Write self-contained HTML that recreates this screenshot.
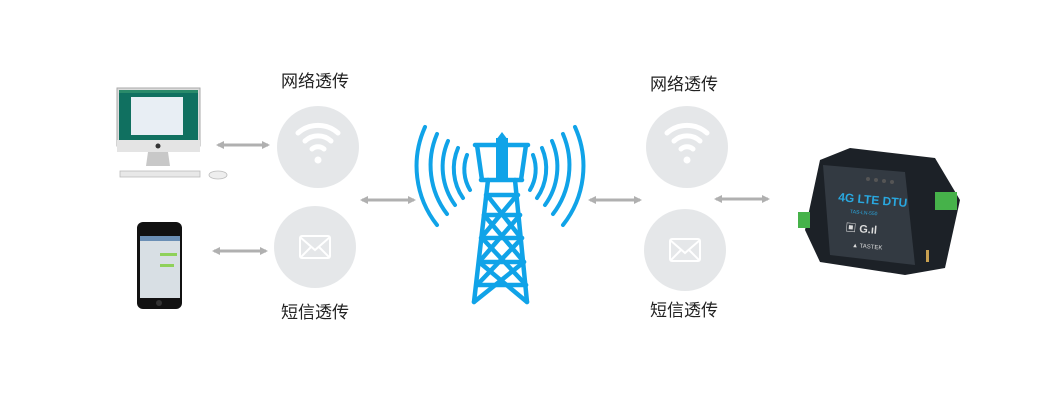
<!DOCTYPE html>
<html><head><meta charset="utf-8"><style>
html,body{margin:0;padding:0;background:#fff;}
svg{display:block;}
text{font-family:"Liberation Sans","Noto Sans CJK SC",sans-serif;}
</style></head><body>
<svg width="1050" height="400" viewBox="0 0 1050 400" xmlns="http://www.w3.org/2000/svg">
<defs>
<marker id="ah" markerWidth="8" markerHeight="8" refX="6" refY="4" orient="auto-start-reverse" markerUnits="userSpaceOnUse">
<path d="M0,0 L8,4 L0,8 Z" fill="#b0b0b0"/></marker>
<g id="wifi" fill="none" stroke="#fff" stroke-width="5" stroke-linecap="round">
<path d="M-20,-10 A30,30 0 0 1 20,-10"/>
<path d="M-13,-2 A19,19 0 0 1 13,-2"/>
<path d="M-6,6 A9,9 0 0 1 6,6"/>
<circle cx="0" cy="17" r="3.5" fill="#fff" stroke="none"/>
</g>
<g id="mail" fill="none" stroke="#fff" stroke-width="2">
<rect x="-15" y="-11" width="30" height="22" rx="2"/>
<path d="M-15,-10 L0,3 L15,-10 M-15,11 L-4,0 M15,11 L4,0"/>
</g>
</defs>

<!-- labels -->
<text x="315" y="87" font-size="17" fill="#222" text-anchor="middle">网络透传</text>
<text x="315" y="318" font-size="17" fill="#222" text-anchor="middle">短信透传</text>
<text x="684" y="90" font-size="17" fill="#222" text-anchor="middle">网络透传</text>
<text x="684" y="316" font-size="17" fill="#222" text-anchor="middle">短信透传</text>

<!-- circles -->
<circle cx="318" cy="147" r="41" fill="#e5e7e9"/>
<use href="#wifi" x="318" y="143"/>
<circle cx="315" cy="247" r="41" fill="#e5e7e9"/>
<use href="#mail" x="315" y="247"/>
<circle cx="687" cy="147" r="41" fill="#e5e7e9"/>
<use href="#wifi" x="687" y="143"/>
<circle cx="685" cy="250" r="41" fill="#e5e7e9"/>
<use href="#mail" x="685" y="250"/>

<!-- arrows -->
<g stroke="#b0b0b0" stroke-width="3">
<line x1="218" y1="145" x2="268" y2="145" marker-start="url(#ah)" marker-end="url(#ah)"/>
<line x1="214" y1="251" x2="266" y2="251" marker-start="url(#ah)" marker-end="url(#ah)"/>
<line x1="362" y1="200" x2="414" y2="200" marker-start="url(#ah)" marker-end="url(#ah)"/>
<line x1="590" y1="200" x2="640" y2="200" marker-start="url(#ah)" marker-end="url(#ah)"/>
<line x1="716" y1="199" x2="768" y2="199" marker-start="url(#ah)" marker-end="url(#ah)"/>
</g>

<!-- monitor -->
<rect x="117" y="88" width="83" height="58" fill="#dcdcdc" stroke="#aaa"/>
<rect x="119" y="90" width="79" height="50" fill="#107060"/>
<rect x="131" y="97" width="52" height="38" fill="#e8eef4"/>
<rect x="119" y="90" width="79" height="3" fill="#2a8a6a"/>
<rect x="117" y="140" width="83" height="12" fill="#e4e4e4"/>
<circle cx="158" cy="146" r="2.5" fill="#333"/>
<path d="M148,152 L168,152 L170,166 L146,166 Z" fill="#c8c8c8"/>
<rect x="120" y="171" width="80" height="6" fill="#e8e8e8" stroke="#bbb" stroke-width="0.8"/>
<ellipse cx="218" cy="175" rx="9" ry="4" fill="#eee" stroke="#bbb" stroke-width="0.8"/>

<!-- phone -->
<rect x="137" y="222" width="45" height="87" rx="6" fill="#111"/>
<rect x="140" y="236" width="40" height="62" fill="#d8dfe4"/>
<rect x="140" y="236" width="40" height="5" fill="#6b8fb5"/>
<rect x="160" y="253" width="17" height="3" fill="#8fd15a"/>
<rect x="160" y="264" width="14" height="3" fill="#8fd15a"/>
<circle cx="159" cy="303" r="3" fill="#333"/>

<!-- tower -->
<g fill="none" stroke="#10a3e8" stroke-linecap="round">
<g stroke-width="4">
<path d="M425,127 A95,95 0 0 0 437,225"/>
<path d="M437,134 A80,80 0 0 0 447,214"/>
<path d="M448,141 A65,65 0 0 0 455,205"/>
<path d="M458,148 A52,52 0 0 0 463,198"/>
<path d="M467,155 A40,40 0 0 0 470,190"/>
<path d="M575,127 A95,95 0 0 1 563,225"/>
<path d="M563,134 A80,80 0 0 1 553,214"/>
<path d="M552,141 A65,65 0 0 1 545,205"/>
<path d="M542,148 A52,52 0 0 1 537,198"/>
<path d="M533,155 A40,40 0 0 1 530,190"/>
</g>
<g stroke-width="4.5">
<path d="M475,145 L528,145 M477,145 L482,180 M526,145 L521,180 M481,180 L522,180"/>
<path d="M488,180 L474,302 M515,180 L527,302"/>
<path d="M486,195 L518,195 M484,215 L520,215 M482,238 L522,238 M479,262 L524,262 M477,285 L526,285"/>
<path d="M487,195 L521,238 M517,195 L481,238 M484,215 L524,262 M520,215 L479,262 M482,238 L526,285 M522,238 L477,285 M479,262 L527,302 M524,262 L474,302"/>
</g>
</g>
<rect x="496" y="138" width="12" height="42" fill="#10a3e8"/>
<path d="M496,140 L502,132 L508,140 Z" fill="#10a3e8"/>

<!-- DTU -->
<path d="M820,160 L850,148 L935,158 L960,200 L945,268 L905,275 L820,262 L805,230 Z" fill="#1c2127"/>
<path d="M823,165 L905,172 L915,265 L830,255 Z" fill="#333a42"/>
<rect x="798" y="212" width="12" height="16" fill="#46b24a"/>
<rect x="935" y="192" width="22" height="18" fill="#46b24a"/>
<text x="838" y="201" font-size="12" font-weight="bold" fill="#29a8e0" transform="rotate(5 838 201)">4G LTE DTU</text>
<text x="850" y="213" font-size="5" fill="#29a8e0" transform="rotate(5 850 213)">TAS-LN-550</text>
<text x="845" y="231" font-size="11" font-weight="bold" fill="#ddd" transform="rotate(5 845 231)">▣ G.ıl</text>
<text x="852" y="247" font-size="6" fill="#ddd" transform="rotate(5 852 247)">▲ TASTEK</text>
<circle cx="868" cy="179" r="2" fill="#555"/><circle cx="876" cy="180" r="2" fill="#555"/>
<circle cx="884" cy="181" r="2" fill="#555"/><circle cx="892" cy="182" r="2" fill="#555"/>
<rect x="926" y="250" width="3" height="12" fill="#c8a050"/>
</svg>
</body></html>
